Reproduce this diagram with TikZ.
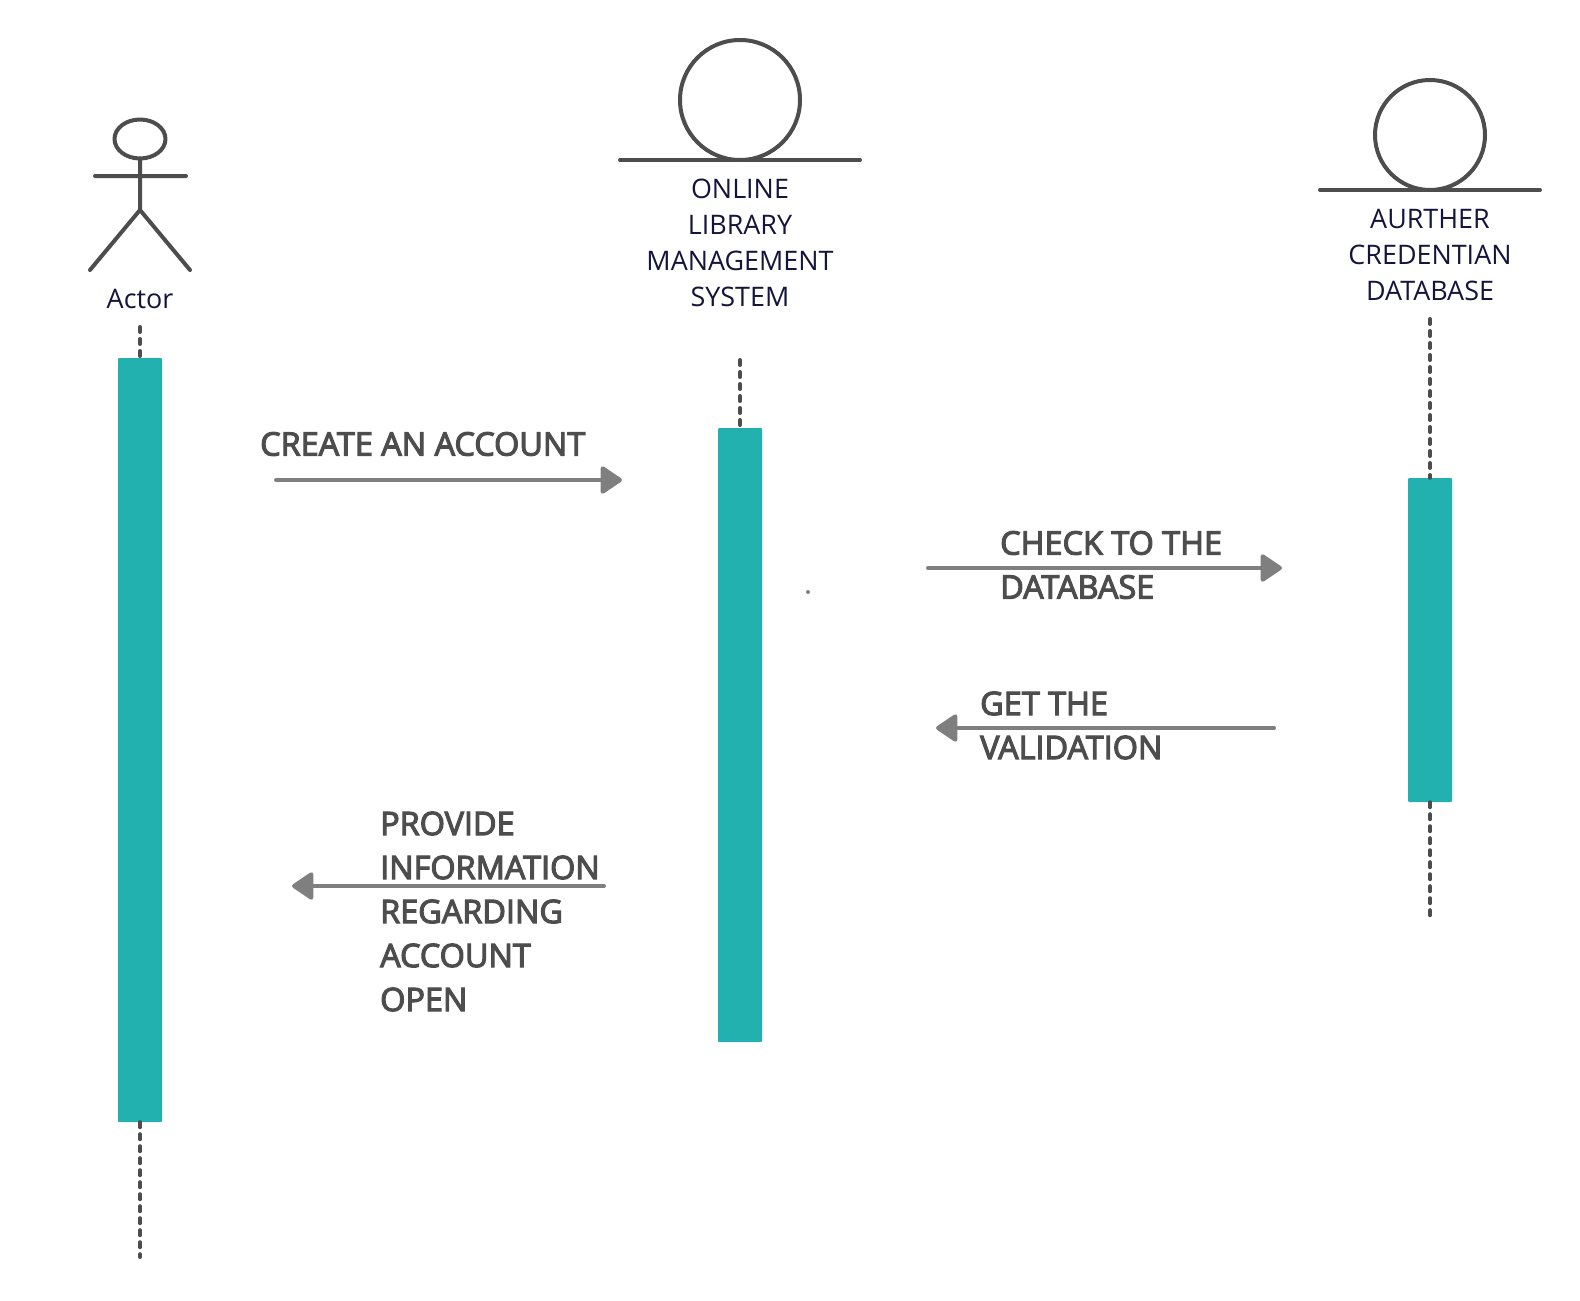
\documentclass[tikz,border=0pt]{standalone}
\usepackage{fontspec}
\setmainfont{Open Sans}
\newfontfamily\msgfont[FakeBold=3.5]{Open Sans}
\usetikzlibrary{arrows.meta}
\definecolor{shapec}{HTML}{4D4D4D}
\definecolor{barc}{HTML}{23B1AF}
\definecolor{arrowc}{HTML}{7F7F7F}
\definecolor{inkc}{HTML}{14143C}
\tikzset{
  outline/.style={draw=shapec,line width=4pt,line cap=round,line join=round},
  lifeline/.style={draw=shapec,line width=4pt,line cap=round,dash pattern=on 5pt off 7pt},
  actbar/.style={fill=barc,draw=none,rounded corners=1pt,minimum width=44pt,inner sep=0pt},
  namelabel/.style={text=inkc,font=\fontsize{26.9}{36}\selectfont,align=center,inner sep=0pt},
  msglabel/.style={text=shapec,font=\msgfont\fontsize{32.4}{44}\selectfont,align=left,inner sep=0pt,anchor=west},
  msgarrow/.style={draw=arrowc,line width=4pt,line cap=round,-{Triangle[length=23pt,width=30pt,round]}},
}
\begin{document}
\begin{tikzpicture}[x=1pt,y=-1pt]
\useasboundingbox (0,0) rectangle (1580,1301);
% actor
\draw[outline] (140,139) ellipse [x radius=25.5,y radius=19.5];
\coordinate (neck) at (140,158.5);
\coordinate (hip) at (140,210);
\coordinate (handL) at (95,176);
\coordinate (handR) at (186,176);
\coordinate (footL) at (90,270);
\coordinate (footR) at (190,270);
\draw[outline] (neck) -- (hip) (handL) -- (handR) (footL) -- (hip) -- (footR);
\node[namelabel] (actorlabel) at (140,299) {Actor};
% entity 2
\draw[outline] (740,100) circle [radius=60];
\coordinate (e2L) at (620,160);
\coordinate (e2R) at (860,160);
\draw[outline] (e2L) -- (e2R);
\node[namelabel] (olms) at (740,242.5) {ONLINE\\LIBRARY\\MANAGEMENT\\SYSTEM};
% entity 3
\draw[outline] (1430,135) circle [radius=55];
\coordinate (e3L) at (1320,190);
\coordinate (e3R) at (1540,190);
\draw[outline] (e3L) -- (e3R);
\node[namelabel] (acd) at (1430,254.5) {AURTHER\\CREDENTIAN\\DATABASE};
% lifelines
\coordinate (l1top) at (140,327);
\coordinate (l1bot) at (140,1257);
\coordinate (l2top) at (740,360);
\coordinate (l3top) at (1430,319);
\coordinate (l3bot) at (1430,920);
\node[actbar,minimum height=764pt] (bar1) at (140,740) {};
\node[actbar,minimum height=614pt] (bar2) at (740,735) {};
\node[actbar,minimum height=324pt] (bar3) at (1430,640) {};
\draw[lifeline] (l1top) -- (bar1.north);
\draw[lifeline] (bar1.south) -- (l1bot);
\draw[lifeline] (l2top) -- (bar2.north);
\draw[lifeline] (l3top) -- (bar3.north);
\draw[lifeline] (bar3.south) -- (l3bot);
% messages
\coordinate (m1a) at (276,480);
\coordinate (m1b) at (622,480);
\coordinate (m2a) at (928,568);
\coordinate (m2b) at (1282,568);
\coordinate (m3a) at (1274,728);
\coordinate (m3b) at (936,728);
\coordinate (m4a) at (604,886);
\coordinate (m4b) at (292,886);
\draw[msgarrow] (m1a) -- (m1b);
\draw[msgarrow] (m2a) -- (m2b);
\draw[msgarrow] (m3a) -- (m3b);
\draw[msgarrow] (m4a) -- (m4b);
\node[msglabel] (t1) at (260,444) {CREATE AN ACCOUNT};
\node[msglabel] (t2) at (1000,565) {CHECK TO THE\\DATABASE};
\node[msglabel] (t3) at (980,725.5) {GET THE\\VALIDATION};
\node[msglabel] (t4) at (380,911.5) {PROVIDE\\INFORMATION\\REGARDING\\ACCOUNT\\OPEN};
% stray dot
\fill[arrowc] (808,592) circle [radius=2];
\end{tikzpicture}
\end{document}
